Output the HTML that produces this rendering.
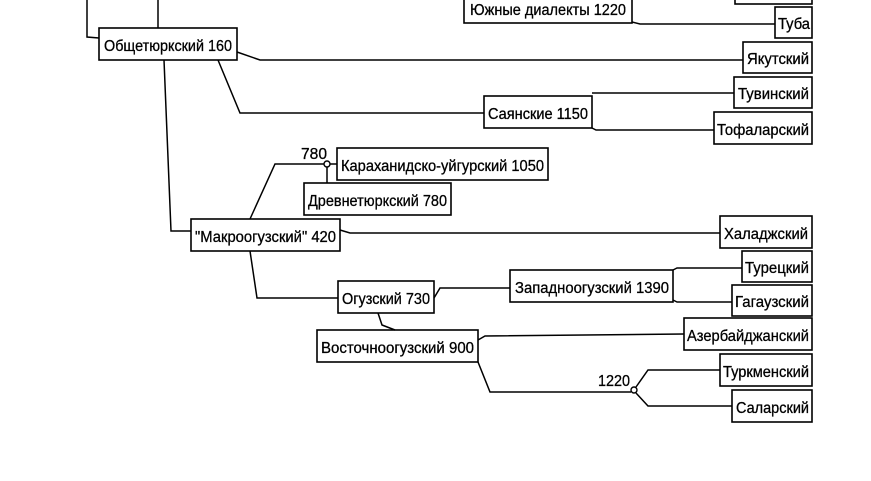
<!DOCTYPE html>
<html><head><meta charset="utf-8"><style>
html,body{margin:0;padding:0;background:#fff;}
svg{display:block;}
text{font-family:"Liberation Sans",sans-serif;font-size:16px;fill:#000;stroke:#000;stroke-width:0.3;}
</style></head><body>
<svg width="871" height="481" viewBox="0 0 871 481" xmlns="http://www.w3.org/2000/svg">
<g fill="#fff" stroke="#000" stroke-width="1.6">
<rect x="735" y="-10" width="77" height="14"/>
<rect x="464" y="-8" width="168" height="31"/>
<rect x="775" y="7" width="37" height="31"/>
<rect x="99" y="28" width="138" height="32"/>
<rect x="743" y="42" width="69" height="31"/>
<rect x="734" y="77" width="78" height="31"/>
<rect x="484" y="96" width="108" height="32"/>
<rect x="714" y="112" width="98" height="32"/>
<rect x="337" y="148" width="211" height="32"/>
<rect x="304" y="183" width="147" height="32"/>
<rect x="191" y="219" width="149" height="32"/>
<rect x="720" y="216" width="92" height="32"/>
<rect x="742" y="251" width="70" height="31"/>
<rect x="510" y="270" width="163" height="32"/>
<rect x="338" y="281" width="96" height="32"/>
<rect x="732" y="285" width="80" height="31"/>
<rect x="684" y="318" width="128" height="32"/>
<rect x="317" y="330" width="161" height="32"/>
<rect x="720" y="354" width="92" height="32"/>
<rect x="732" y="390" width="80" height="32"/>
</g>
<g fill="none" stroke="#000" stroke-width="1.5">
<polyline points="87,0 87,37 99,38"/>
<line x1="158" y1="0" x2="158" y2="28"/>
<polyline points="632,22 640,24 775,24"/>
<polyline points="237,52 260,60 743,60"/>
<polyline points="218,60 240,113 484,113"/>
<line x1="592" y1="93" x2="734" y2="93"/>
<polyline points="592,128 596,130 714,130"/>
<polyline points="164,60 171,231 191,231"/>
<polyline points="250,219 275,164 324,164"/>
<line x1="330" y1="164" x2="337" y2="164"/>
<line x1="327" y1="167" x2="327" y2="183"/>
<polyline points="340,230 350,233 720,233"/>
<polyline points="250,251 257,298 338,298"/>
<polyline points="434,298 440,288 510,288"/>
<polyline points="673,270 677,268 742,268"/>
<polyline points="673,300 677,302 732,302"/>
<polyline points="378,313 382,325 395,330"/>
<polyline points="478,340 485,336 684,334"/>
<polyline points="478,362 490,392 631,392"/>
<polyline points="636,387 648,370 720,370"/>
<polyline points="636,393 648,406 732,406"/>
</g>
<g fill="#fff" stroke="#000" stroke-width="1.4">
<circle cx="327" cy="164" r="3"/>
<circle cx="634" cy="390" r="3"/>
</g>
<text x="470" y="15" textLength="156" lengthAdjust="spacingAndGlyphs">Южные диалекты 1220</text>
<text x="778" y="29" textLength="32" lengthAdjust="spacingAndGlyphs">Туба</text>
<text x="104" y="51" textLength="128" lengthAdjust="spacingAndGlyphs">Общетюркский 160</text>
<text x="747" y="64" textLength="62" lengthAdjust="spacingAndGlyphs">Якутский</text>
<text x="738" y="99" textLength="71" lengthAdjust="spacingAndGlyphs">Тувинский</text>
<text x="488" y="119" textLength="100" lengthAdjust="spacingAndGlyphs">Саянские 1150</text>
<text x="717" y="135" textLength="92" lengthAdjust="spacingAndGlyphs">Тофаларский</text>
<text x="301" y="159" textLength="26" lengthAdjust="spacingAndGlyphs">780</text>
<text x="341" y="171" textLength="203" lengthAdjust="spacingAndGlyphs">Караханидско-уйгурский 1050</text>
<text x="308" y="206" textLength="139" lengthAdjust="spacingAndGlyphs">Древнетюркский 780</text>
<text x="195" y="242" textLength="141" lengthAdjust="spacingAndGlyphs">"Макроогузский" 420</text>
<text x="724" y="239" textLength="84" lengthAdjust="spacingAndGlyphs">Халаджский</text>
<text x="745" y="273" textLength="64" lengthAdjust="spacingAndGlyphs">Турецкий</text>
<text x="515" y="293" textLength="154" lengthAdjust="spacingAndGlyphs">Западноогузский 1390</text>
<text x="342" y="304" textLength="88" lengthAdjust="spacingAndGlyphs">Огузский 730</text>
<text x="735" y="307" textLength="74" lengthAdjust="spacingAndGlyphs">Гагаузский</text>
<text x="687" y="341" textLength="122" lengthAdjust="spacingAndGlyphs">Азербайджанский</text>
<text x="321" y="353" textLength="153" lengthAdjust="spacingAndGlyphs">Восточноогузский 900</text>
<text x="598" y="386" textLength="32" lengthAdjust="spacingAndGlyphs">1220</text>
<text x="723" y="377" textLength="86" lengthAdjust="spacingAndGlyphs">Туркменский</text>
<text x="736" y="413" textLength="73" lengthAdjust="spacingAndGlyphs">Саларский</text>
</svg>
</body></html>
